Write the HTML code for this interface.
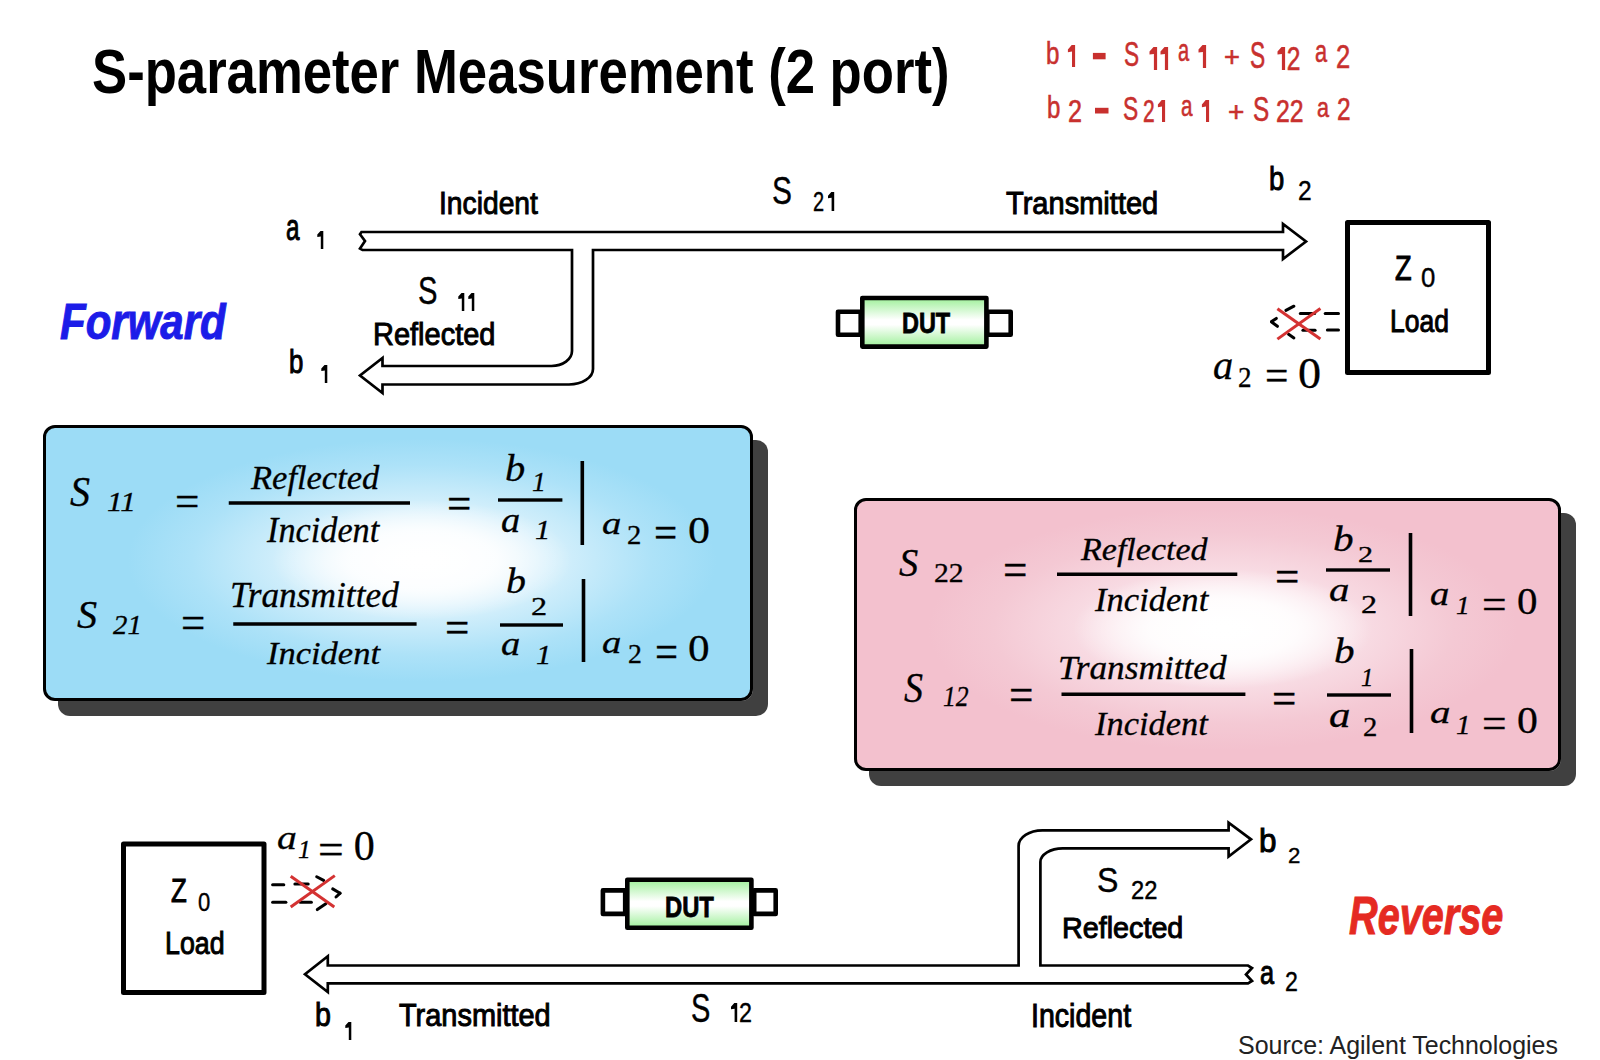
<!DOCTYPE html>
<html><head><meta charset="utf-8"><title>S-parameter Measurement (2 port)</title>
<style>
html,body{margin:0;padding:0;background:#fff;}
body{width:1600px;height:1060px;position:relative;overflow:hidden;}
.t{position:absolute;white-space:nowrap;line-height:1;transform-origin:0 0;}
.box{position:absolute;box-sizing:border-box;border:solid #000;}
#blue{left:43px;top:425px;width:710px;height:276px;border-width:3px;border-radius:12px;
  background:radial-gradient(ellipse 150px 60px at 376px 132px,rgba(255,255,255,1) 0%,rgba(255,255,255,0.8) 50%,rgba(255,255,255,0) 100%),radial-gradient(ellipse 320px 132px at 376px 132px,#ffffff 0%,#f0f9fe 20%,#d0eefb 45%,#ade2f8 72%,#9cdcf6 92%);
  box-shadow:15px 15px 0 #404040;}
#pink{left:854px;top:498px;width:707px;height:273px;border-width:3px;border-radius:12px;
  background:radial-gradient(ellipse 150px 60px at 366px 128px,rgba(255,255,255,1) 0%,rgba(255,255,255,0.8) 50%,rgba(255,255,255,0) 100%),radial-gradient(ellipse 320px 132px at 366px 128px,#ffffff 0%,#fdf3f6 20%,#f8dbe3 45%,#f4c9d4 72%,#f3c1ce 92%);
  box-shadow:15px 15px 0 #404040;}
svg{position:absolute;left:0;top:0;}
.one{color:transparent !important;-webkit-text-stroke-color:transparent !important;}
</style></head><body>
<div class="box" id="blue"></div>
<div class="box" id="pink"></div>
<svg width="1600" height="1060" viewBox="0 0 1600 1060">
<defs>
<linearGradient id="dutg" x1="0" y1="0" x2="0" y2="1">
<stop offset="0" stop-color="#9ff09a"/><stop offset="0.45" stop-color="#ffffff"/><stop offset="0.55" stop-color="#ffffff"/><stop offset="1" stop-color="#9ff09a"/>
</linearGradient>
</defs>
<g fill="#fff" stroke="#000" stroke-width="2.7" stroke-linejoin="miter">
<!-- forward arrow -->
<path d="M361.5,232 L1283,232 L1283,224 L1306,241.5 L1283,259 L1283,250 L593,250 L593,369 A24,15.5 0 0 1 569,384.5 L382.5,384.5 L382.5,393 L360,375.5 L382.5,358 L382.5,366 L551.5,366 A20.5,15 0 0 0 572,351 L572,250 L362.5,250 L360,248.5 L365,241 L360,234.2 Z"/>
<!-- reverse arrow -->
<path d="M327.8,965.5 L1018.6,965.5 L1018.6,846 A23.8,15.7 0 0 1 1042.4,830.3 L1228.6,830.3 L1228.6,822.6 L1251,839.3 L1228.6,856.5 L1228.6,848.4 L1062.8,848.4 A22.4,13.6 0 0 0 1040.4,862 L1040.4,965.5 L1248,965.5 L1252,968 L1246,974.5 L1252,981 L1248,983.3 L327.8,983.3 L327.8,992 L305,974.2 L327.8,956.3 Z"/>
</g>
<g fill="#fff" stroke="#000" stroke-width="5" stroke-linejoin="round">
<rect x="1347.5" y="222.5" width="141" height="150"/>
<rect x="123.5" y="843.9" width="140.5" height="148.6"/>
</g>
<g stroke="#000" stroke-width="4.6" stroke-linejoin="round">
<rect x="838" y="311.8" width="22.7" height="22.9" fill="#fff"/>
<rect x="987.3" y="311.8" width="23.4" height="22.9" fill="#fff"/>
<rect x="862.3" y="298" width="124.1" height="48.6" fill="url(#dutg)"/>
<rect x="602.9" y="890.4" width="22.3" height="23.5" fill="#fff"/>
<rect x="754.2" y="890.4" width="21.5" height="23.5" fill="#fff"/>
<rect x="627.3" y="879.8" width="124.1" height="47.9" fill="url(#dutg)"/>
</g>
<g stroke="#000" stroke-width="3" stroke-linecap="round">
<line x1="1325.2" y1="313.6" x2="1338.5" y2="313.6"/><line x1="1327.4" y1="330" x2="1338.5" y2="330"/>
<line x1="1300.3" y1="313.6" x2="1314.6" y2="313.6"/><line x1="1302.9" y1="330.3" x2="1315.1" y2="330.3"/>
<line x1="1285.9" y1="310.4" x2="1293.9" y2="306.2"/><line x1="1271.6" y1="321.6" x2="1276.3" y2="318.4"/>
<line x1="1271.6" y1="322" x2="1277.4" y2="326.3"/><line x1="1288.6" y1="334.3" x2="1293.9" y2="338"/>
<line x1="272.6" y1="884.7" x2="283.8" y2="884.7"/><line x1="272.6" y1="902.2" x2="285.9" y2="902.2"/>
<line x1="294.9" y1="884.1" x2="308.2" y2="884.1"/><line x1="300.3" y1="902.2" x2="311.4" y2="902.2"/>
<line x1="316.7" y1="876.7" x2="323.6" y2="880.4"/><line x1="332.7" y1="888.9" x2="340.1" y2="893.2"/>
<line x1="340.1" y1="893.2" x2="336" y2="897"/><line x1="317.3" y1="909.6" x2="325.8" y2="903.8"/>
</g>
<g stroke="#d43232" stroke-width="3">
<line x1="1277.4" y1="308.8" x2="1320.4" y2="339.1"/><line x1="1277.4" y1="339.1" x2="1320.4" y2="308.5"/>
<line x1="290.7" y1="876.2" x2="334.3" y2="907"/><line x1="290.7" y1="907" x2="334.8" y2="875.6"/>
</g>
<g fill="#c8302e">
<rect x="1092.9" y="52.9" width="12.7" height="6.4"/>
<rect x="1095" y="107.8" width="13.5" height="5.7"/>
</g>
<g fill="#000">
<rect x="228.75" y="501.25" width="181.25" height="3.5"/>
<rect x="498" y="498.3" width="64.4" height="3.4"/>
<rect x="580.5" y="461" width="3.6" height="84"/>
<rect x="233.25" y="622.25" width="183.35" height="3.5"/>
<rect x="500" y="623.3" width="63" height="3.4"/>
<rect x="581.7" y="579" width="3.6" height="83"/>
<rect x="1057" y="572.5" width="180.3" height="3.5"/>
<rect x="1326" y="568.3" width="64" height="3.4"/>
<rect x="1408.7" y="533" width="3.6" height="83"/>
<rect x="1061.5" y="692.5" width="183.9" height="3.5"/>
<rect x="1327" y="693.3" width="64" height="3.4"/>
<rect x="1409.7" y="649" width="3.6" height="84"/>
</g>
</svg>

<div class="t" style="left:92.33px;top:39.60px;font-family:'Liberation Sans';font-size:63.2px;font-weight:bold;font-style:normal;color:#000;transform:scaleX(0.8335);">S-parameter Measurement (2 port)</div>
<div class="t" style="left:1046.43px;top:39.00px;font-family:'Liberation Sans';font-size:30.68px;font-weight:normal;font-style:normal;-webkit-text-stroke:0.6px;color:#c8302e;transform:scaleX(0.7857);">b</div>
<div class="t" style="left:1067.57px;top:40.00px;font-family:'Liberation Sans';font-size:32.25px;font-weight:normal;font-style:normal;-webkit-text-stroke:0.6px;color:#c8302e;transform:scaleX(0.4667);"><span class="one">1</span></div>
<div class="t" style="left:1124.36px;top:36.00px;font-family:'Liberation Sans';font-size:35.25px;font-weight:normal;font-style:normal;-webkit-text-stroke:0.6px;color:#c8302e;transform:scaleX(0.6429);">S</div>
<div class="t" style="left:1146.11px;top:41.50px;font-family:'Liberation Sans';font-size:33.0px;font-weight:normal;font-style:normal;-webkit-text-stroke:0.6px;color:#c8302e;transform:scaleX(0.6935);"><span class="one">1</span><span class="one">1</span></div>
<div class="t" style="left:1178.35px;top:36.00px;font-family:'Liberation Sans';font-size:30.94px;font-weight:normal;font-style:normal;-webkit-text-stroke:0.6px;color:#c8302e;transform:scaleX(0.6471);">a</div>
<div class="t" style="left:1198.00px;top:40.00px;font-family:'Liberation Sans';font-size:33.0px;font-weight:normal;font-style:normal;-webkit-text-stroke:0.6px;color:#c8302e;transform:scaleX(0.5000);"><span class="one">1</span></div>
<div class="t" style="left:1224.00px;top:43.40px;font-family:'Liberation Sans';font-size:27.2px;font-weight:normal;font-style:normal;-webkit-text-stroke:0.6px;color:#c8302e;">+</div>
<div class="t" style="left:1249.87px;top:38.00px;font-family:'Liberation Sans';font-size:36.0px;font-weight:normal;font-style:normal;-webkit-text-stroke:0.6px;color:#c8302e;transform:scaleX(0.6318);">S</div>
<div class="t" style="left:1272.53px;top:41.70px;font-family:'Liberation Sans';font-size:33.45px;font-weight:normal;font-style:normal;-webkit-text-stroke:0.6px;color:#c8302e;transform:scaleX(0.7353);"><span class="one">1</span>2</div>
<div class="t" style="left:1314.72px;top:35.60px;font-family:'Liberation Sans';font-size:31.88px;font-weight:normal;font-style:normal;-webkit-text-stroke:0.6px;color:#c8302e;transform:scaleX(0.6824);">a</div>
<div class="t" style="left:1335.82px;top:40.00px;font-family:'Liberation Sans';font-size:33.0px;font-weight:normal;font-style:normal;-webkit-text-stroke:0.6px;color:#c8302e;transform:scaleX(0.7750);">2</div>
<div class="t" style="left:1047.47px;top:92.00px;font-family:'Liberation Sans';font-size:31.36px;font-weight:normal;font-style:normal;-webkit-text-stroke:0.6px;color:#c8302e;transform:scaleX(0.7667);">b</div>
<div class="t" style="left:1068.22px;top:94.50px;font-family:'Liberation Sans';font-size:32.25px;font-weight:normal;font-style:normal;-webkit-text-stroke:0.6px;color:#c8302e;transform:scaleX(0.7812);">2</div>
<div class="t" style="left:1122.83px;top:92.00px;font-family:'Liberation Sans';font-size:33.75px;font-weight:normal;font-style:normal;-webkit-text-stroke:0.6px;color:#c8302e;transform:scaleX(0.6750);">S</div>
<div class="t" style="left:1143.33px;top:96.00px;font-family:'Liberation Sans';font-size:31.5px;font-weight:normal;font-style:normal;-webkit-text-stroke:0.6px;color:#c8302e;transform:scaleX(0.6667);">2<span class="one">1</span></div>
<div class="t" style="left:1181.31px;top:91.00px;font-family:'Liberation Sans';font-size:30.0px;font-weight:normal;font-style:normal;-webkit-text-stroke:0.6px;color:#c8302e;transform:scaleX(0.6875);">a</div>
<div class="t" style="left:1200.86px;top:96.00px;font-family:'Liberation Sans';font-size:31.5px;font-weight:normal;font-style:normal;-webkit-text-stroke:0.6px;color:#c8302e;transform:scaleX(0.5714);"><span class="one">1</span></div>
<div class="t" style="left:1228.00px;top:98.00px;font-family:'Liberation Sans';font-size:28.0px;font-weight:normal;font-style:normal;-webkit-text-stroke:0.6px;color:#c8302e;">+</div>
<div class="t" style="left:1253.30px;top:91.70px;font-family:'Liberation Sans';font-size:34.95px;font-weight:normal;font-style:normal;-webkit-text-stroke:0.6px;color:#c8302e;transform:scaleX(0.6952);">S</div>
<div class="t" style="left:1276.21px;top:96.00px;font-family:'Liberation Sans';font-size:31.5px;font-weight:normal;font-style:normal;-webkit-text-stroke:0.6px;color:#c8302e;transform:scaleX(0.7879);">22</div>
<div class="t" style="left:1316.73px;top:94.00px;font-family:'Liberation Sans';font-size:28.12px;font-weight:normal;font-style:normal;-webkit-text-stroke:0.6px;color:#c8302e;transform:scaleX(0.7667);">a</div>
<div class="t" style="left:1336.93px;top:93.80px;font-family:'Liberation Sans';font-size:31.8px;font-weight:normal;font-style:normal;-webkit-text-stroke:0.6px;color:#c8302e;transform:scaleX(0.7687);">2</div>
<div class="t" style="left:285.82px;top:210.00px;font-family:'Liberation Sans';font-size:36.0px;font-weight:normal;font-style:normal;-webkit-text-stroke:1px;color:#000;transform:scaleX(0.6750);">a</div>
<div class="t" style="left:314.73px;top:228.00px;font-family:'Liberation Sans';font-size:25.62px;font-weight:normal;font-style:normal;-webkit-text-stroke:0.4px;color:#000;transform:scaleX(0.6364);"><span class="one">1</span></div>
<div class="t" style="left:439.49px;top:187.10px;font-family:'Liberation Sans';font-size:32.15px;font-weight:normal;font-style:normal;-webkit-text-stroke:1px;color:#000;transform:scaleX(0.8784);">Incident</div>
<div class="t" style="left:771.56px;top:171.90px;font-family:'Liberation Sans';font-size:38.91px;font-weight:normal;font-style:normal;-webkit-text-stroke:0.4px;color:#000;transform:scaleX(0.7682);">S</div>
<div class="t" style="left:813.03px;top:187.90px;font-family:'Liberation Sans';font-size:27.69px;font-weight:normal;font-style:normal;-webkit-text-stroke:0.4px;color:#000;transform:scaleX(0.7224);">2<span class="one">1</span></div>
<div class="t" style="left:1006.30px;top:186.90px;font-family:'Liberation Sans';font-size:32.03px;font-weight:normal;font-style:normal;-webkit-text-stroke:1px;color:#000;transform:scaleX(0.9072);">Transmitted</div>
<div class="t" style="left:1268.97px;top:161.90px;font-family:'Liberation Sans';font-size:33.77px;font-weight:normal;font-style:normal;-webkit-text-stroke:1px;color:#000;transform:scaleX(0.8125);">b</div>
<div class="t" style="left:1297.50px;top:177.20px;font-family:'Liberation Sans';font-size:27.28px;font-weight:normal;font-style:normal;-webkit-text-stroke:0.4px;color:#000;transform:scaleX(0.9000);">2</div>
<div class="t" style="left:418.10px;top:270.70px;font-family:'Liberation Sans';font-size:39.05px;font-weight:normal;font-style:normal;-webkit-text-stroke:0.4px;color:#000;transform:scaleX(0.7478);">S</div>
<div class="t" style="left:454.39px;top:289.50px;font-family:'Liberation Sans';font-size:25.62px;font-weight:normal;font-style:normal;-webkit-text-stroke:0.4px;color:#000;transform:scaleX(0.8042);"><span class="one">1</span><span class="one">1</span></div>
<div class="t" style="left:373.07px;top:318.70px;font-family:'Liberation Sans';font-size:31.66px;font-weight:normal;font-style:normal;-webkit-text-stroke:1px;color:#000;transform:scaleX(0.9154);">Reflected</div>
<div class="t" style="left:288.75px;top:345.20px;font-family:'Liberation Sans';font-size:33.27px;font-weight:normal;font-style:normal;-webkit-text-stroke:1px;color:#000;transform:scaleX(0.7750);">b</div>
<div class="t" style="left:318.52px;top:362.40px;font-family:'Liberation Sans';font-size:25.75px;font-weight:normal;font-style:normal;-webkit-text-stroke:0.4px;color:#000;transform:scaleX(0.6909);"><span class="one">1</span></div>
<div class="t" style="left:1394.82px;top:250.40px;font-family:'Liberation Sans';font-size:35.1px;font-weight:normal;font-style:normal;-webkit-text-stroke:1px;color:#000;transform:scaleX(0.7750);">Z</div>
<div class="t" style="left:1421.06px;top:264.10px;font-family:'Liberation Sans';font-size:27.42px;font-weight:normal;font-style:normal;-webkit-text-stroke:0.4px;color:#000;transform:scaleX(0.9385);">0</div>
<div class="t" style="left:1390.13px;top:305.70px;font-family:'Liberation Sans';font-size:31.66px;font-weight:normal;font-style:normal;-webkit-text-stroke:1px;color:#000;transform:scaleX(0.8373);">Load</div>
<div class="t" style="left:170.84px;top:874.00px;font-family:'Liberation Sans';font-size:33.81px;font-weight:normal;font-style:normal;-webkit-text-stroke:1px;color:#000;transform:scaleX(0.7632);">Z</div>
<div class="t" style="left:197.96px;top:888.50px;font-family:'Liberation Sans';font-size:26.31px;font-weight:normal;font-style:normal;-webkit-text-stroke:0.4px;color:#000;transform:scaleX(0.8385);">0</div>
<div class="t" style="left:165.40px;top:927.70px;font-family:'Liberation Sans';font-size:31.41px;font-weight:normal;font-style:normal;-webkit-text-stroke:1px;color:#000;transform:scaleX(0.8522);">Load</div>
<div class="t" style="left:315.47px;top:998.25px;font-family:'Liberation Sans';font-size:33.21px;font-weight:normal;font-style:normal;-webkit-text-stroke:1px;color:#000;transform:scaleX(0.8625);">b</div>
<div class="t" style="left:343.47px;top:1018.60px;font-family:'Liberation Sans';font-size:25.82px;font-weight:normal;font-style:normal;-webkit-text-stroke:0.4px;color:#000;transform:scaleX(0.6636);"><span class="one">1</span></div>
<div class="t" style="left:399.25px;top:999.10px;font-family:'Liberation Sans';font-size:32.15px;font-weight:normal;font-style:normal;-webkit-text-stroke:1px;color:#000;transform:scaleX(0.9003);">Transmitted</div>
<div class="t" style="left:690.74px;top:989.40px;font-family:'Liberation Sans';font-size:39.74px;font-weight:normal;font-style:normal;-webkit-text-stroke:0.4px;color:#000;transform:scaleX(0.7304);">S</div>
<div class="t" style="left:725.79px;top:998.80px;font-family:'Liberation Sans';font-size:27.28px;font-weight:normal;font-style:normal;-webkit-text-stroke:0.4px;color:#000;transform:scaleX(0.8556);"><span class="one">1</span>2</div>
<div class="t" style="left:1031.00px;top:1000.00px;font-family:'Liberation Sans';font-size:32.59px;font-weight:normal;font-style:normal;-webkit-text-stroke:1px;color:#000;transform:scaleX(0.8772);">Incident</div>
<div class="t" style="left:1096.96px;top:863.10px;font-family:'Liberation Sans';font-size:34.89px;font-weight:normal;font-style:normal;-webkit-text-stroke:0.4px;color:#000;transform:scaleX(0.9200);">S</div>
<div class="t" style="left:1130.87px;top:877.70px;font-family:'Liberation Sans';font-size:25.48px;font-weight:normal;font-style:normal;-webkit-text-stroke:0.4px;color:#000;transform:scaleX(0.9308);">22</div>
<div class="t" style="left:1062.10px;top:912.60px;font-family:'Liberation Sans';font-size:30.17px;font-weight:normal;font-style:normal;-webkit-text-stroke:1px;color:#000;transform:scaleX(0.9524);">Reflected</div>
<div class="t" style="left:1258.67px;top:825.40px;font-family:'Liberation Sans';font-size:32.52px;font-weight:normal;font-style:normal;-webkit-text-stroke:1px;color:#000;transform:scaleX(0.9667);">b</div>
<div class="t" style="left:1287.73px;top:843.80px;font-family:'Liberation Sans';font-size:22.85px;font-weight:normal;font-style:normal;-webkit-text-stroke:0.4px;color:#000;transform:scaleX(0.9727);">2</div>
<div class="t" style="left:1259.75px;top:956.30px;font-family:'Liberation Sans';font-size:33.77px;font-weight:normal;font-style:normal;-webkit-text-stroke:1px;color:#000;transform:scaleX(0.7500);">a</div>
<div class="t" style="left:1284.94px;top:968.90px;font-family:'Liberation Sans';font-size:26.86px;font-weight:normal;font-style:normal;-webkit-text-stroke:0.4px;color:#000;transform:scaleX(0.8615);">2</div>
<div class="t" style="left:59.50px;top:296.50px;font-family:'Liberation Sans';font-size:50.28px;font-weight:bold;font-style:italic;-webkit-text-stroke:1px;color:#1c1ce8;transform:scaleX(0.8357);">Forward</div>
<div class="t" style="left:1348.85px;top:889.40px;font-family:'Liberation Sans';font-size:53.14px;font-weight:bold;font-style:italic;-webkit-text-stroke:1px;color:#e52a22;transform:scaleX(0.7463);">Reverse</div>
<div class="t" style="left:901.66px;top:309.00px;font-family:'Liberation Sans';font-size:28.64px;font-weight:bold;font-style:normal;-webkit-text-stroke:0.8px;color:#000;transform:scaleX(0.8193);">DUT</div>
<div class="t" style="left:665.26px;top:892.60px;font-family:'Liberation Sans';font-size:29.05px;font-weight:bold;font-style:normal;-webkit-text-stroke:0.8px;color:#000;transform:scaleX(0.8190);">DUT</div>
<div class="t" style="left:1237.68px;top:1031.90px;font-family:'Liberation Sans';font-size:26px;font-weight:normal;font-style:normal;color:#222;transform:scaleX(0.9595);">Source: Agilent Technologies</div>
<div class="t" style="left:1212.96px;top:345.50px;font-family:'Liberation Serif';font-size:39.1px;font-weight:normal;font-style:italic;-webkit-text-stroke:0.3px;color:#000;transform:scaleX(1.0353);">a</div>
<div class="t" style="left:1238.20px;top:362.25px;font-family:'Liberation Serif';font-size:30.14px;font-weight:normal;font-style:normal;-webkit-text-stroke:0.3px;color:#000;transform:scaleX(0.9000);">2</div>
<div class="t" style="left:1265.36px;top:354.10px;font-family:'Liberation Serif';font-size:44.01px;font-weight:normal;font-style:normal;-webkit-text-stroke:0.3px;color:#000;transform:scaleX(0.9452);">=</div>
<div class="t" style="left:1298.47px;top:351.50px;font-family:'Liberation Serif';font-size:43.43px;font-weight:normal;font-style:normal;-webkit-text-stroke:0.3px;color:#000;transform:scaleX(1.0639);">0</div>
<div class="t" style="left:276.55px;top:819.70px;font-family:'Liberation Serif';font-size:34.64px;font-weight:normal;font-style:italic;-webkit-text-stroke:0.3px;color:#000;transform:scaleX(1.1467);">a</div>
<div class="t" style="left:298.39px;top:836.80px;font-family:'Liberation Serif';font-size:25.35px;font-weight:normal;font-style:italic;-webkit-text-stroke:0.3px;color:#000;transform:scaleX(1.0111);">1</div>
<div class="t" style="left:318.23px;top:827.60px;font-family:'Liberation Serif';font-size:44.2px;font-weight:normal;font-style:normal;-webkit-text-stroke:0.3px;color:#000;transform:scaleX(1.0333);">=</div>
<div class="t" style="left:353.70px;top:824.80px;font-family:'Liberation Serif';font-size:42.04px;font-weight:normal;font-style:normal;-webkit-text-stroke:0.3px;color:#000;">0</div>
<div class="t" style="left:70.10px;top:471.60px;font-family:'Liberation Serif';font-size:41.73px;font-weight:normal;font-style:italic;-webkit-text-stroke:0.3px;color:#000;transform:scaleX(0.9600);">S</div>
<div class="t" style="left:107.28px;top:488.40px;font-family:'Liberation Serif';font-size:27.82px;font-weight:normal;font-style:italic;-webkit-text-stroke:0.3px;color:#000;transform:scaleX(1.1227);">11</div>
<div class="t" style="left:174.97px;top:479.60px;font-family:'Liberation Serif';font-size:42.69px;font-weight:normal;font-style:normal;-webkit-text-stroke:0.3px;color:#000;transform:scaleX(1.0150);">=</div>
<div class="t" style="left:251.00px;top:461.25px;font-family:'Liberation Serif';font-size:33.29px;font-weight:normal;font-style:italic;-webkit-text-stroke:0.3px;color:#000;transform:scaleX(1.0363);">Reflected</div>
<div class="t" style="left:267.00px;top:512.90px;font-family:'Liberation Serif';font-size:34.99px;font-weight:normal;font-style:italic;-webkit-text-stroke:0.3px;color:#000;transform:scaleX(0.9793);">Incident</div>
<div class="t" style="left:447.09px;top:481.00px;font-family:'Liberation Serif';font-size:45.33px;font-weight:normal;font-style:normal;-webkit-text-stroke:0.3px;color:#000;transform:scaleX(0.9545);">=</div>
<div class="t" style="left:504.94px;top:449.00px;font-family:'Liberation Serif';font-size:38.25px;font-weight:normal;font-style:italic;-webkit-text-stroke:0.3px;color:#000;transform:scaleX(1.0588);">b</div>
<div class="t" style="left:532.00px;top:468.00px;font-family:'Liberation Serif';font-size:27.82px;font-weight:normal;font-style:italic;-webkit-text-stroke:0.3px;color:#000;">1</div>
<div class="t" style="left:500.94px;top:502.00px;font-family:'Liberation Serif';font-size:36.12px;font-weight:normal;font-style:italic;-webkit-text-stroke:0.3px;color:#000;transform:scaleX(1.0625);">a</div>
<div class="t" style="left:534.90px;top:516.00px;font-family:'Liberation Serif';font-size:27.82px;font-weight:normal;font-style:italic;-webkit-text-stroke:0.3px;color:#000;transform:scaleX(1.1000);">1</div>
<div class="t" style="left:601.79px;top:508.00px;font-family:'Liberation Serif';font-size:31.88px;font-weight:normal;font-style:italic;-webkit-text-stroke:0.3px;color:#000;transform:scaleX(1.2143);">a</div>
<div class="t" style="left:626.91px;top:523.00px;font-family:'Liberation Serif';font-size:26.27px;font-weight:normal;font-style:normal;-webkit-text-stroke:0.3px;color:#000;transform:scaleX(1.0909);">2</div>
<div class="t" style="left:654.18px;top:510.00px;font-family:'Liberation Serif';font-size:45.33px;font-weight:normal;font-style:normal;-webkit-text-stroke:0.3px;color:#000;transform:scaleX(0.9091);">=</div>
<div class="t" style="left:687.81px;top:512.00px;font-family:'Liberation Serif';font-size:37.09px;font-weight:normal;font-style:normal;-webkit-text-stroke:0.3px;color:#000;transform:scaleX(1.1875);">0</div>
<div class="t" style="left:76.90px;top:594.60px;font-family:'Liberation Serif';font-size:40.03px;font-weight:normal;font-style:italic;-webkit-text-stroke:0.3px;color:#000;transform:scaleX(1.0053);">S</div>
<div class="t" style="left:112.90px;top:611.25px;font-family:'Liberation Serif';font-size:27.82px;font-weight:normal;font-style:italic;-webkit-text-stroke:0.3px;color:#000;transform:scaleX(1.0340);">21</div>
<div class="t" style="left:180.75px;top:599.40px;font-family:'Liberation Serif';font-size:46.66px;font-weight:normal;font-style:normal;-webkit-text-stroke:0.3px;color:#000;transform:scaleX(0.9227);">=</div>
<div class="t" style="left:229.98px;top:578.40px;font-family:'Liberation Serif';font-size:34.99px;font-weight:normal;font-style:italic;-webkit-text-stroke:0.3px;color:#000;transform:scaleX(1.0097);">Transmitted</div>
<div class="t" style="left:267.00px;top:638.00px;font-family:'Liberation Serif';font-size:31.88px;font-weight:normal;font-style:italic;-webkit-text-stroke:0.3px;color:#000;transform:scaleX(1.0819);">Incident</div>
<div class="t" style="left:445.09px;top:605.00px;font-family:'Liberation Serif';font-size:45.33px;font-weight:normal;font-style:normal;-webkit-text-stroke:0.3px;color:#000;transform:scaleX(0.9545);">=</div>
<div class="t" style="left:505.88px;top:564.00px;font-family:'Liberation Serif';font-size:35.42px;font-weight:normal;font-style:italic;-webkit-text-stroke:0.3px;color:#000;transform:scaleX(1.1250);">b</div>
<div class="t" style="left:530.70px;top:595.00px;font-family:'Liberation Serif';font-size:24.73px;font-weight:normal;font-style:normal;-webkit-text-stroke:0.3px;color:#000;transform:scaleX(1.3000);">2</div>
<div class="t" style="left:500.87px;top:627.00px;font-family:'Liberation Serif';font-size:34.0px;font-weight:normal;font-style:italic;-webkit-text-stroke:0.3px;color:#000;transform:scaleX(1.1333);">a</div>
<div class="t" style="left:535.90px;top:641.00px;font-family:'Liberation Serif';font-size:27.82px;font-weight:normal;font-style:italic;-webkit-text-stroke:0.3px;color:#000;transform:scaleX(1.1000);">1</div>
<div class="t" style="left:601.79px;top:627.00px;font-family:'Liberation Serif';font-size:31.88px;font-weight:normal;font-style:italic;-webkit-text-stroke:0.3px;color:#000;transform:scaleX(1.2143);">a</div>
<div class="t" style="left:628.00px;top:640.00px;font-family:'Liberation Serif';font-size:27.82px;font-weight:normal;font-style:normal;-webkit-text-stroke:0.3px;color:#000;">2</div>
<div class="t" style="left:655.33px;top:627.00px;font-family:'Liberation Serif';font-size:49.11px;font-weight:normal;font-style:normal;-webkit-text-stroke:0.3px;color:#000;transform:scaleX(0.8333);">=</div>
<div class="t" style="left:687.88px;top:629.00px;font-family:'Liberation Serif';font-size:38.64px;font-weight:normal;font-style:normal;-webkit-text-stroke:0.3px;color:#000;transform:scaleX(1.1176);">0</div>
<div class="t" style="left:898.50px;top:544.00px;font-family:'Liberation Serif';font-size:39.41px;font-weight:normal;font-style:italic;-webkit-text-stroke:0.3px;color:#000;transform:scaleX(0.9737);">S</div>
<div class="t" style="left:934.39px;top:560.00px;font-family:'Liberation Serif';font-size:26.74px;font-weight:normal;font-style:normal;-webkit-text-stroke:0.3px;color:#000;transform:scaleX(1.1083);">22</div>
<div class="t" style="left:1003.09px;top:546.00px;font-family:'Liberation Serif';font-size:47.98px;font-weight:normal;font-style:normal;-webkit-text-stroke:0.3px;color:#000;transform:scaleX(0.9043);">=</div>
<div class="t" style="left:1081.00px;top:534.30px;font-family:'Liberation Serif';font-size:31.81px;font-weight:normal;font-style:italic;-webkit-text-stroke:0.3px;color:#000;transform:scaleX(1.0706);">Reflected</div>
<div class="t" style="left:1095.00px;top:582.00px;font-family:'Liberation Serif';font-size:34.57px;font-weight:normal;font-style:italic;-webkit-text-stroke:0.3px;color:#000;">Incident</div>
<div class="t" style="left:1275.09px;top:554.00px;font-family:'Liberation Serif';font-size:45.33px;font-weight:normal;font-style:normal;-webkit-text-stroke:0.3px;color:#000;transform:scaleX(0.9545);">=</div>
<div class="t" style="left:1332.88px;top:521.00px;font-family:'Liberation Serif';font-size:36.83px;font-weight:normal;font-style:italic;-webkit-text-stroke:0.3px;color:#000;transform:scaleX(1.1176);">b</div>
<div class="t" style="left:1357.70px;top:543.00px;font-family:'Liberation Serif';font-size:23.18px;font-weight:normal;font-style:normal;-webkit-text-stroke:0.3px;color:#000;transform:scaleX(1.3000);">2</div>
<div class="t" style="left:1328.80px;top:573.00px;font-family:'Liberation Serif';font-size:34.0px;font-weight:normal;font-style:italic;-webkit-text-stroke:0.3px;color:#000;transform:scaleX(1.2000);">a</div>
<div class="t" style="left:1360.70px;top:593.00px;font-family:'Liberation Serif';font-size:24.73px;font-weight:normal;font-style:normal;-webkit-text-stroke:0.3px;color:#000;transform:scaleX(1.3000);">2</div>
<div class="t" style="left:1429.87px;top:577.00px;font-family:'Liberation Serif';font-size:34.0px;font-weight:normal;font-style:italic;-webkit-text-stroke:0.3px;color:#000;transform:scaleX(1.1333);">a</div>
<div class="t" style="left:1455.89px;top:594.00px;font-family:'Liberation Serif';font-size:24.73px;font-weight:normal;font-style:italic;-webkit-text-stroke:0.3px;color:#000;transform:scaleX(1.1111);">1</div>
<div class="t" style="left:1481.90px;top:584.00px;font-family:'Liberation Serif';font-size:41.56px;font-weight:normal;font-style:normal;-webkit-text-stroke:0.3px;color:#000;transform:scaleX(1.0500);">=</div>
<div class="t" style="left:1516.94px;top:582.00px;font-family:'Liberation Serif';font-size:38.64px;font-weight:normal;font-style:normal;-webkit-text-stroke:0.3px;color:#000;transform:scaleX(1.0588);">0</div>
<div class="t" style="left:904.30px;top:667.50px;font-family:'Liberation Serif';font-size:41.11px;font-weight:normal;font-style:italic;-webkit-text-stroke:0.3px;color:#000;transform:scaleX(0.9250);">S</div>
<div class="t" style="left:942.70px;top:683.40px;font-family:'Liberation Serif';font-size:28.59px;font-weight:normal;font-style:italic;-webkit-text-stroke:0.3px;color:#000;transform:scaleX(0.9000);">12</div>
<div class="t" style="left:1008.89px;top:670.60px;font-family:'Liberation Serif';font-size:47.98px;font-weight:normal;font-style:normal;-webkit-text-stroke:0.3px;color:#000;transform:scaleX(0.9043);">=</div>
<div class="t" style="left:1058.25px;top:652.00px;font-family:'Liberation Serif';font-size:32.87px;font-weight:normal;font-style:italic;-webkit-text-stroke:0.3px;color:#000;transform:scaleX(1.0742);">Transmitted</div>
<div class="t" style="left:1095.00px;top:705.50px;font-family:'Liberation Serif';font-size:34.42px;font-weight:normal;font-style:italic;-webkit-text-stroke:0.3px;color:#000;">Incident</div>
<div class="t" style="left:1272.09px;top:676.00px;font-family:'Liberation Serif';font-size:45.33px;font-weight:normal;font-style:normal;-webkit-text-stroke:0.3px;color:#000;transform:scaleX(0.9545);">=</div>
<div class="t" style="left:1333.88px;top:633.00px;font-family:'Liberation Serif';font-size:36.83px;font-weight:normal;font-style:italic;-webkit-text-stroke:0.3px;color:#000;transform:scaleX(1.1176);">b</div>
<div class="t" style="left:1361.00px;top:666.00px;font-family:'Liberation Serif';font-size:24.73px;font-weight:normal;font-style:italic;-webkit-text-stroke:0.3px;color:#000;">1</div>
<div class="t" style="left:1328.81px;top:697.00px;font-family:'Liberation Serif';font-size:36.12px;font-weight:normal;font-style:italic;-webkit-text-stroke:0.3px;color:#000;transform:scaleX(1.1875);">a</div>
<div class="t" style="left:1362.91px;top:715.00px;font-family:'Liberation Serif';font-size:26.27px;font-weight:normal;font-style:normal;-webkit-text-stroke:0.3px;color:#000;transform:scaleX(1.0909);">2</div>
<div class="t" style="left:1429.71px;top:697.00px;font-family:'Liberation Serif';font-size:31.88px;font-weight:normal;font-style:italic;-webkit-text-stroke:0.3px;color:#000;transform:scaleX(1.2857);">a</div>
<div class="t" style="left:1455.89px;top:713.00px;font-family:'Liberation Serif';font-size:26.27px;font-weight:normal;font-style:italic;-webkit-text-stroke:0.3px;color:#000;transform:scaleX(1.1111);">1</div>
<div class="t" style="left:1481.90px;top:703.00px;font-family:'Liberation Serif';font-size:41.56px;font-weight:normal;font-style:normal;-webkit-text-stroke:0.3px;color:#000;transform:scaleX(1.0500);">=</div>
<div class="t" style="left:1516.88px;top:702.00px;font-family:'Liberation Serif';font-size:37.09px;font-weight:normal;font-style:normal;-webkit-text-stroke:0.3px;color:#000;transform:scaleX(1.1250);">0</div>
<svg width="1600" height="1060" style="position:absolute;left:0;top:0"><polygon fill="rgb(200, 48, 46)" points="1075.1,45.0 1075.1,67.0 1072.0,67.0 1072.0,51.6 1067.9,52.3 1067.9,49.4 1071.7,45.0"/><polygon fill="rgb(200, 48, 46)" points="1157.1,47.0 1157.1,70.0 1153.9,70.0 1153.9,53.9 1149.5,54.6 1149.5,51.6 1153.5,47.0"/><polygon fill="rgb(200, 48, 46)" points="1168.1,47.0 1168.1,70.0 1164.9,70.0 1164.9,53.9 1160.5,54.6 1160.5,51.6 1164.5,47.0"/><polygon fill="rgb(200, 48, 46)" points="1206.1,45.0 1206.1,68.0 1202.9,68.0 1202.9,51.9 1198.5,52.6 1198.5,49.6 1202.5,45.0"/><polygon fill="rgb(200, 48, 46)" points="1285.1,47.0 1285.1,70.0 1281.9,70.0 1281.9,53.9 1277.5,54.6 1277.5,51.6 1281.5,47.0"/><polygon fill="rgb(200, 48, 46)" points="1165.1,100.0 1165.1,122.0 1162.0,122.0 1162.0,106.6 1157.9,107.3 1157.9,104.4 1161.7,100.0"/><polygon fill="rgb(200, 48, 46)" points="1209.1,100.0 1209.1,122.0 1206.0,122.0 1206.0,106.6 1201.9,107.3 1201.9,104.4 1205.7,100.0"/><polygon fill="rgb(0, 0, 0)" points="323.3,231.0 323.3,249.0 320.8,249.0 320.8,236.4 317.3,236.9 317.3,234.6 320.5,231.0"/><polygon fill="rgb(0, 0, 0)" points="834.2,192.0 834.2,211.0 831.6,211.0 831.6,197.7 828.0,198.3 828.0,195.8 831.3,192.0"/><polygon fill="rgb(0, 0, 0)" points="464.3,293.0 464.3,311.0 461.8,311.0 461.8,298.4 458.3,298.9 458.3,296.6 461.5,293.0"/><polygon fill="rgb(0, 0, 0)" points="474.3,293.0 474.3,311.0 471.8,311.0 471.8,298.4 468.3,298.9 468.3,296.6 471.5,293.0"/><polygon fill="rgb(0, 0, 0)" points="327.3,365.0 327.3,383.0 324.8,383.0 324.8,370.4 321.3,370.9 321.3,368.6 324.5,365.0"/><polygon fill="rgb(0, 0, 0)" points="351.3,1022.0 351.3,1040.0 348.8,1040.0 348.8,1027.4 345.3,1027.9 345.3,1025.6 348.5,1022.0"/><polygon fill="rgb(0, 0, 0)" points="737.2,1003.0 737.2,1022.0 734.6,1022.0 734.6,1008.7 731.0,1009.3 731.0,1006.8 734.3,1003.0"/></svg>
</body></html>
